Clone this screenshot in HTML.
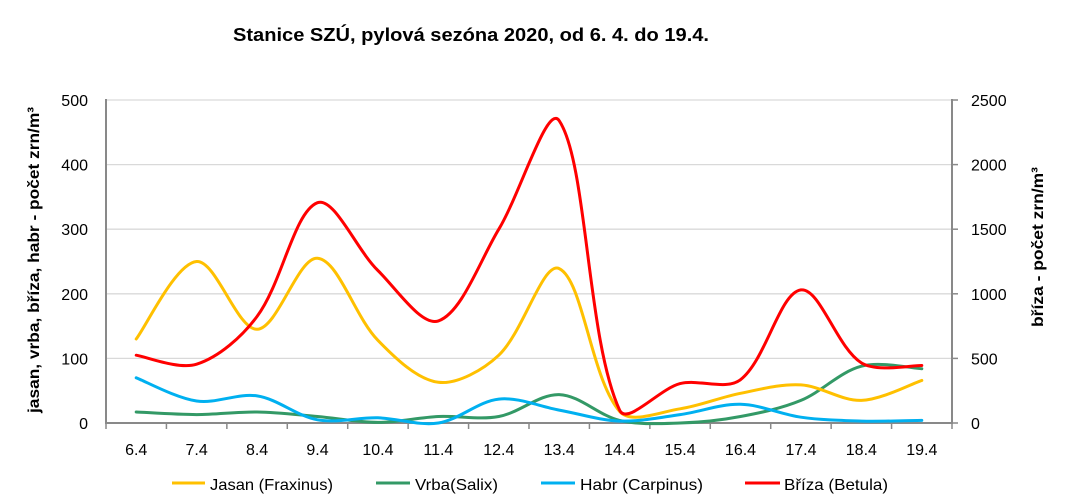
<!DOCTYPE html>
<html><head><meta charset="utf-8"><style>
html,body{margin:0;padding:0;background:#fff;}
svg{display:block;}
text{font-family:"Liberation Sans",Arial,sans-serif;fill:#000;}
</style></head><body>
<svg id="c" width="1066" height="498" viewBox="0 0 1066 498" xmlns="http://www.w3.org/2000/svg">
<rect x="0" y="0" width="1066" height="498" fill="#fff"/>
<text x="233" y="41" font-size="18" font-weight="bold" textLength="476" lengthAdjust="spacingAndGlyphs">Stanice SZÚ, pylová sezóna 2020, od 6. 4. do 19.4.</text>
<g stroke="#d9d9d9" stroke-width="1.3">
<line x1="106" y1="100" x2="952" y2="100"/>
<line x1="106" y1="164.6" x2="952" y2="164.6"/>
<line x1="106" y1="229.2" x2="952" y2="229.2"/>
<line x1="106" y1="293.8" x2="952" y2="293.8"/>
<line x1="106" y1="358.4" x2="952" y2="358.4"/>
</g>
<g id="ticks" stroke="#898989" stroke-width="1.5"></g>
<g stroke="#898989" stroke-width="2">
<line x1="106" y1="99" x2="106" y2="424"/>
<line x1="952" y1="99" x2="952" y2="424"/>
<line x1="105" y1="423" x2="953" y2="423"/>
</g>
<g font-size="16" text-anchor="end">
<text x="88" y="106">500</text>
<text x="88" y="170.6">400</text>
<text x="88" y="235.2">300</text>
<text x="88" y="299.8">200</text>
<text x="88" y="364.4">100</text>
<text x="88" y="429">0</text>
</g>
<g font-size="16" text-anchor="start">
<text x="971" y="106">2500</text>
<text x="971" y="170.6">2000</text>
<text x="971" y="235.2">1500</text>
<text x="971" y="299.8">1000</text>
<text x="971" y="364.4">500</text>
<text x="971" y="429">0</text>
</g>
<g id="xl" font-size="16" text-anchor="middle"></g>
<text transform="translate(39,260) rotate(-90)" font-size="16" font-weight="bold" text-anchor="middle" textLength="306" lengthAdjust="spacingAndGlyphs">jasan, vrba, bříza, habr -  počet zrn/m³</text>
<text transform="translate(1043,247) rotate(-90)" font-size="16" font-weight="bold" text-anchor="middle" textLength="160" lengthAdjust="spacingAndGlyphs">bříza - počet zrn/m³</text>
<g id="series" fill="none" stroke-width="3" stroke-linecap="round" stroke-linejoin="round"></g>
<g stroke-width="3">
<line x1="172" y1="483" x2="205" y2="483" stroke="#FFC000"/>
<line x1="376" y1="483" x2="410" y2="483" stroke="#339966"/>
<line x1="541" y1="483" x2="575" y2="483" stroke="#00B0F0"/>
<line x1="745" y1="483" x2="780" y2="483" stroke="#FF0000"/>
</g>
<g font-size="16">
<text x="210" y="490" textLength="123" lengthAdjust="spacingAndGlyphs">Jasan (Fraxinus)</text>
<text x="415" y="490" textLength="83" lengthAdjust="spacingAndGlyphs">Vrba(Salix)</text>
<text x="580" y="490" textLength="123" lengthAdjust="spacingAndGlyphs">Habr (Carpinus)</text>
<text x="784" y="490" textLength="104" lengthAdjust="spacingAndGlyphs">Bříza (Betula)</text>
</g>
</svg>
<script>
(function(){
var NS="http://www.w3.org/2000/svg";
var x0=106,x1=952,n=14,w=(x1-x0)/n,yb=423;
function cx(i){return x0+w*(i+0.5);}
var ticks=document.getElementById('ticks');
for(var k=0;k<=n;k++){var l=document.createElementNS(NS,'line');var x=x0+w*k;
l.setAttribute('x1',x);l.setAttribute('x2',x);l.setAttribute('y1',423);l.setAttribute('y2',429);ticks.appendChild(l);}
[100,164.6,229.2,293.8,358.4,423].forEach(function(y){var l=document.createElementNS(NS,'line');
l.setAttribute('x1',952);l.setAttribute('x2',958);l.setAttribute('y1',y);l.setAttribute('y2',y);ticks.appendChild(l);});
var labs=['6.4','7.4','8.4','9.4','10.4','11.4','12.4','13.4','14.4','15.4','16.4','17.4','18.4','19.4'];
var xl=document.getElementById('xl');
labs.forEach(function(s,i){var t=document.createElementNS(NS,'text');t.setAttribute('x',cx(i));t.setAttribute('y',455);t.textContent=s;xl.appendChild(t);});
var S=[
 {c:'#339966',k:0.646,d:[17,13,17,10,1,10,10,44,4,0,10,35,88,84]},
 {c:'#FFC000',k:0.646,d:[130,250,145,255,128,63,105,239,18,22,46,59,35,66]},
 {c:'#00B0F0',k:0.646,d:[70,34,42,5,8,0,37,20,3,13,29,9,3,4]},
 {c:'#FF0000',k:0.1292,d:[525,455,825,1705,1180,790,1500,2340,100,305,335,1030,465,445]}
];
function dist(a,b){var dx=a[0]-b[0],dy=a[1]-b[1];return Math.sqrt(dx*dx+dy*dy);}
var g=document.getElementById('series');
S.forEach(function(s){
 var P=s.d.map(function(v,i){return [cx(i),yb-v*s.k];});
 var N=P.length;
 var tin=[],tout=[];
 for(var i=0;i<N;i++){
  var pa=P[i-1]||P[i],pb=P[i+1]||P[i];
  var dIn=i>0?dist(P[i-1],P[i]):0,dOut=i<N-1?dist(P[i],P[i+1]):0;
  var tx=pb[0]-pa[0],ty=pb[1]-pa[1];
  var sum=dIn+dOut;
  if(i===0||i===N-1){tin[i]=[tx/6,ty/6];tout[i]=[tx/6,ty/6];continue;}
  var fi=(dIn/sum)/3,fo=(dOut/sum)/3;
  tin[i]=[tx*fi,ty*fi];tout[i]=[tx*fo,ty*fo];
 }
 var d='M'+P[0][0].toFixed(1)+','+P[0][1].toFixed(1);
 for(var i=0;i<N-1;i++){
  var p1=P[i],p2=P[i+1];
  var c1=[p1[0]+tout[i][0],p1[1]+tout[i][1]];
  var c2=[p2[0]-tin[i+1][0],p2[1]-tin[i+1][1]];
  d+=' C'+c1[0].toFixed(1)+','+c1[1].toFixed(1)+' '+c2[0].toFixed(1)+','+c2[1].toFixed(1)+' '+p2[0].toFixed(1)+','+p2[1].toFixed(1);
 }
 var p=document.createElementNS(NS,'path');p.setAttribute('d',d);p.setAttribute('stroke',s.c);g.appendChild(p);
});
})();
</script>
</body></html>
